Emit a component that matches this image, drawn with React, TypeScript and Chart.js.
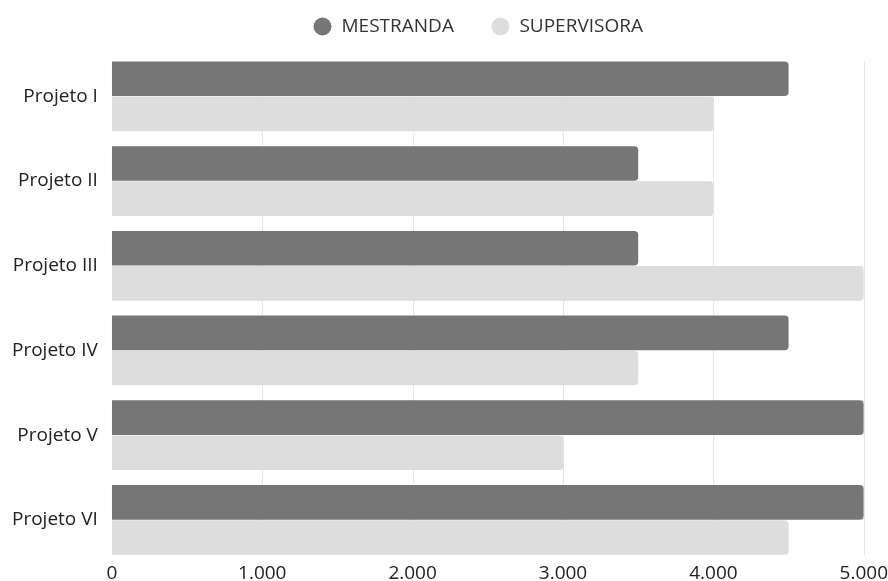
import React, { useEffect, useRef } from "react";
import { Chart, registerables } from "chart.js";

Chart.register(...registerables);

const categories = ["Projeto I", "Projeto II", "Projeto III", "Projeto IV", "Projeto V", "Projeto VI"];
const mestranda = [4.5, 3.5, 3.5, 4.5, 5.0, 5.0];
const supervisora = [4.0, 4.0, 5.0, 3.5, 3.0, 4.5];
const tickLabels = ["0", "1.000", "2.000", "3.000", "4.000", "5.000"];

const CAT_PCT = 0.83;

const legendShift = {
  id: "legendShift",
  beforeInit(chart: any) {
    const leg = chart.legend;
    if (leg && !leg.__patched) {
      const fit = leg.fit;
      leg.fit = function () {
        fit.call(this);
        this.height += 8;
      };
      leg.__patched = true;
    }
  },
  afterLayout(chart: any) {
    const leg = chart.legend;
    if (leg) {
      leg.left += 37;
      leg.right += 37;
    }
  },
};

const clippedGrid = {
  id: "clippedGrid",
  beforeDatasetsDraw(chart: any) {
    const { ctx, chartArea, scales } = chart;
    const x = scales.x;
    const band = (chartArea.bottom - chartArea.top) / categories.length;
    const inset = (band * (1 - CAT_PCT)) / 2;
    ctx.save();
    ctx.strokeStyle = "#e6e6e6";
    ctx.lineWidth = 1;
    x.ticks.forEach((t: any, i: number) => {
      if (i === 0) return;
      const px = Math.round(x.getPixelForValue(t.value)) + 0.5;
      ctx.beginPath();
      ctx.moveTo(px, chartArea.top + inset);
      ctx.lineTo(px, chartArea.bottom - inset);
      ctx.stroke();
    });
    ctx.restore();
  },
};

export default function App() {
  const ref = useRef<HTMLCanvasElement | null>(null);
  useEffect(() => {
    document.body.style.margin = "0";
    const ctx = ref.current!;
    const chart = new Chart(ctx, {
      type: "bar",
      plugins: [legendShift, clippedGrid],
      data: {
        labels: categories,
        datasets: [
          {
            label: "MESTRANDA",
            data: mestranda,
            backgroundColor: "#767676",
            borderRadius: 4,
            borderSkipped: "start",
            categoryPercentage: CAT_PCT,
            barPercentage: 0.985,
          },
          {
            label: "SUPERVISORA",
            data: supervisora,
            backgroundColor: "#dddddd",
            borderRadius: 4,
            borderSkipped: "start",
            categoryPercentage: CAT_PCT,
            barPercentage: 0.985,
          },
        ],
      },
      options: {
        indexAxis: "y",
        animation: false,
        responsive: false,
        maintainAspectRatio: false,
        layout: { padding: { top: -20, right: 4, left: -2, bottom: -5.5 } },
        plugins: {
          legend: {
            position: "top",
            labels: {
              usePointStyle: true,
              pointStyle: "circle",
              boxWidth: 19,
              boxHeight: 12.7,
              padding: 37,
              color: "#333333",
              font: { family: "'Open Sans'", size: 19 },
            },
          },
          tooltip: { enabled: false },
        },
        scales: {
          x: {
            min: 0,
            max: 5,
            ticks: {
              stepSize: 1,
              color: "#222222",
              font: { family: "'Open Sans'", size: 19 },
              padding: 0,
              maxRotation: 0,
              callback: (_v: any, i: number) => tickLabels[i],
            },
            grid: { display: false, drawTicks: false },
            border: { display: false },
          },
          y: {
            ticks: {
              color: "#222222",
              font: { family: "'Open Sans'", size: 19, lineHeight: 0.5 },
              padding: 14,
            },
            grid: { display: false, drawTicks: false },
            border: { display: false },
          },
        },
      },
    });
    return () => chart.destroy();
  }, []);
  return (
    <div style={{ width: 888, height: 581 }}>
      <canvas ref={ref} width={888} height={581} />
    </div>
  );
}
